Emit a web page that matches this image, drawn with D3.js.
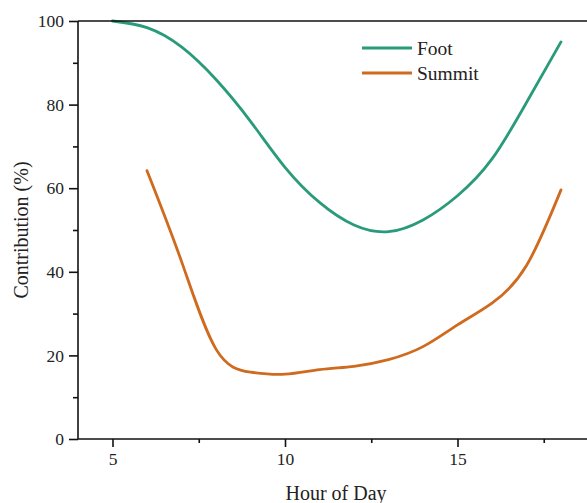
<!DOCTYPE html>
<html>
<head>
<meta charset="utf-8">
<script src="https://cdn.jsdelivr.net/npm/d3@7"></script>
<style>
  body { margin: 0; background: #fff; }
  svg text { font-family: "Liberation Serif", "Times New Roman", serif; fill: #222; }
</style>
</head>
<body>
<div id="plot"></div>
<script>
// data
  var footHours = [5, 6, 7, 8, 9, 10, 11, 12, 13, 14, 15, 16, 17, 18];
  var footValues = [100, 98.4, 93.8, 86.0, 76.0, 65.0, 56.6, 51.2, 49.6, 52.4, 58.2, 67.0, 80.5, 95.0];

  var summitHours = [6, 7, 8, 9, 10, 11, 12, 13, 14, 15, 16, 17, 18];
  var summitValues = [64.2, 42.5, 21.5, 16.0, 15.5, 16.6, 17.4, 19.0, 22.1, 27.3, 32.5, 41.5, 59.6];

  var seriesNames = ["Foot", "Summit"];
  var seriesColors = ["#2a9b7a", "#cf6a1e"];

  var xTicks = [5, 10, 15];
  var xMinor = [7.5, 12.5, 17.5];
  var yTicks = [0, 20, 40, 60, 80, 100];
  var yMinor = [10, 30, 50, 70, 90];

  var w = 587;
  var h = 503;
  var margin = {top: 21, left: 78, bottom: 64};

  var xScale = d3.scaleLinear()
      .domain([4, 19])
      .range([margin.left, margin.left + 15 * 34.5]);

  var yScale = d3.scaleLinear()
      .domain([0, 100])
      .range([h - margin.bottom, margin.top]);

  var svg = d3.select("div#plot")
    .append("svg")
      .attr("width", w)
      .attr("height", h);

// lines

  var line = d3.line()
      .x(d => xScale(d[0]))
      .y(d => yScale(d[1]))
      .curve(d3.curveNatural);

  var series = [
      d3.zip(footHours, footValues),
      d3.zip(summitHours, summitValues)
  ];

  svg.selectAll("path.series")
      .data(series)
    .enter().append("path")
      .attr("class", "series")
      .attr("d", line)
      .attr("fill", "none")
      .attr("stroke", (d, i) => seriesColors[i])
      .attr("stroke-width", 2.8)
      .attr("stroke-linecap", "round");

// axes (major and minor ticks in separate groups)

  var xAxis = d3.axisBottom(xScale)
      .tickValues(xTicks)
      .tickSize(8)
      .tickPadding(6)
      .tickFormat(d3.format("d"));

  var xAxisMinor = d3.axisBottom(xScale)
      .tickValues(xMinor)
      .tickSize(4)
      .tickFormat("");

  var yAxis = d3.axisLeft(yScale)
      .tickValues(yTicks)
      .tickSize(9)
      .tickPadding(5)
      .tickFormat(d3.format("d"));

  var yAxisMinor = d3.axisLeft(yScale)
      .tickValues(yMinor)
      .tickSize(5)
      .tickFormat("");

  svg.append("g")
      .attr("transform", `translate(0, ${yScale(0)})`)
      .call(xAxis);
  svg.append("g")
      .attr("transform", `translate(0, ${yScale(0)})`)
      .call(xAxisMinor);

  svg.append("g")
      .attr("transform", `translate(${margin.left}, 0)`)
      .call(yAxis);
  svg.append("g")
      .attr("transform", `translate(${margin.left}, 0)`)
      .call(yAxisMinor);

  svg.selectAll(".domain").remove();
  svg.selectAll(".tick line")
      .attr("stroke", "#111")
      .attr("stroke-width", 1.6);
  svg.selectAll(".tick text")
      .attr("font-size", "17.5px")
      .attr("font-family", "Liberation Serif, serif")
      .attr("fill", "#222");

// frame: left, bottom, top

  var frame = svg.append("g")
      .attr("stroke", "#111")
      .attr("stroke-width", 1.6);

  frame.append("line")
      .attr("x1", margin.left).attr("x2", margin.left)
      .attr("y1", yScale(100)).attr("y2", yScale(0));
  frame.append("line")
      .attr("x1", margin.left).attr("x2", xScale(19))
      .attr("y1", yScale(0)).attr("y2", yScale(0));
  frame.append("line")
      .attr("x1", margin.left).attr("x2", xScale(19))
      .attr("y1", yScale(100)).attr("y2", yScale(100));

// titles

  svg.append("text")
      .attr("x", 336)
      .attr("y", 500)
      .attr("text-anchor", "middle")
      .attr("font-size", "20px")
      .text("Hour of Day");

  svg.append("text")
      .attr("transform", `translate(28, ${yScale(50)}) rotate(-90)`)
      .attr("text-anchor", "middle")
      .attr("font-size", "20px")
      .text("Contribution (%)");

// legend

  var legend = svg.selectAll("g.legend")
      .data(seriesNames)
    .enter().append("g")
      .attr("class", "legend")
      .attr("transform", (d, i) => `translate(362, ${48 + i * 25})`);

  legend.append("line")
      .attr("x1", 0).attr("x2", 50)
      .attr("y1", 0).attr("y2", 0)
      .attr("stroke", (d, i) => seriesColors[i])
      .attr("stroke-width", 2.8);

  legend.append("text")
      .attr("x", 55)
      .attr("y", 6.5)
      .attr("font-size", "19.5px")
      .text(d => d);
</script>
</body>
</html>
